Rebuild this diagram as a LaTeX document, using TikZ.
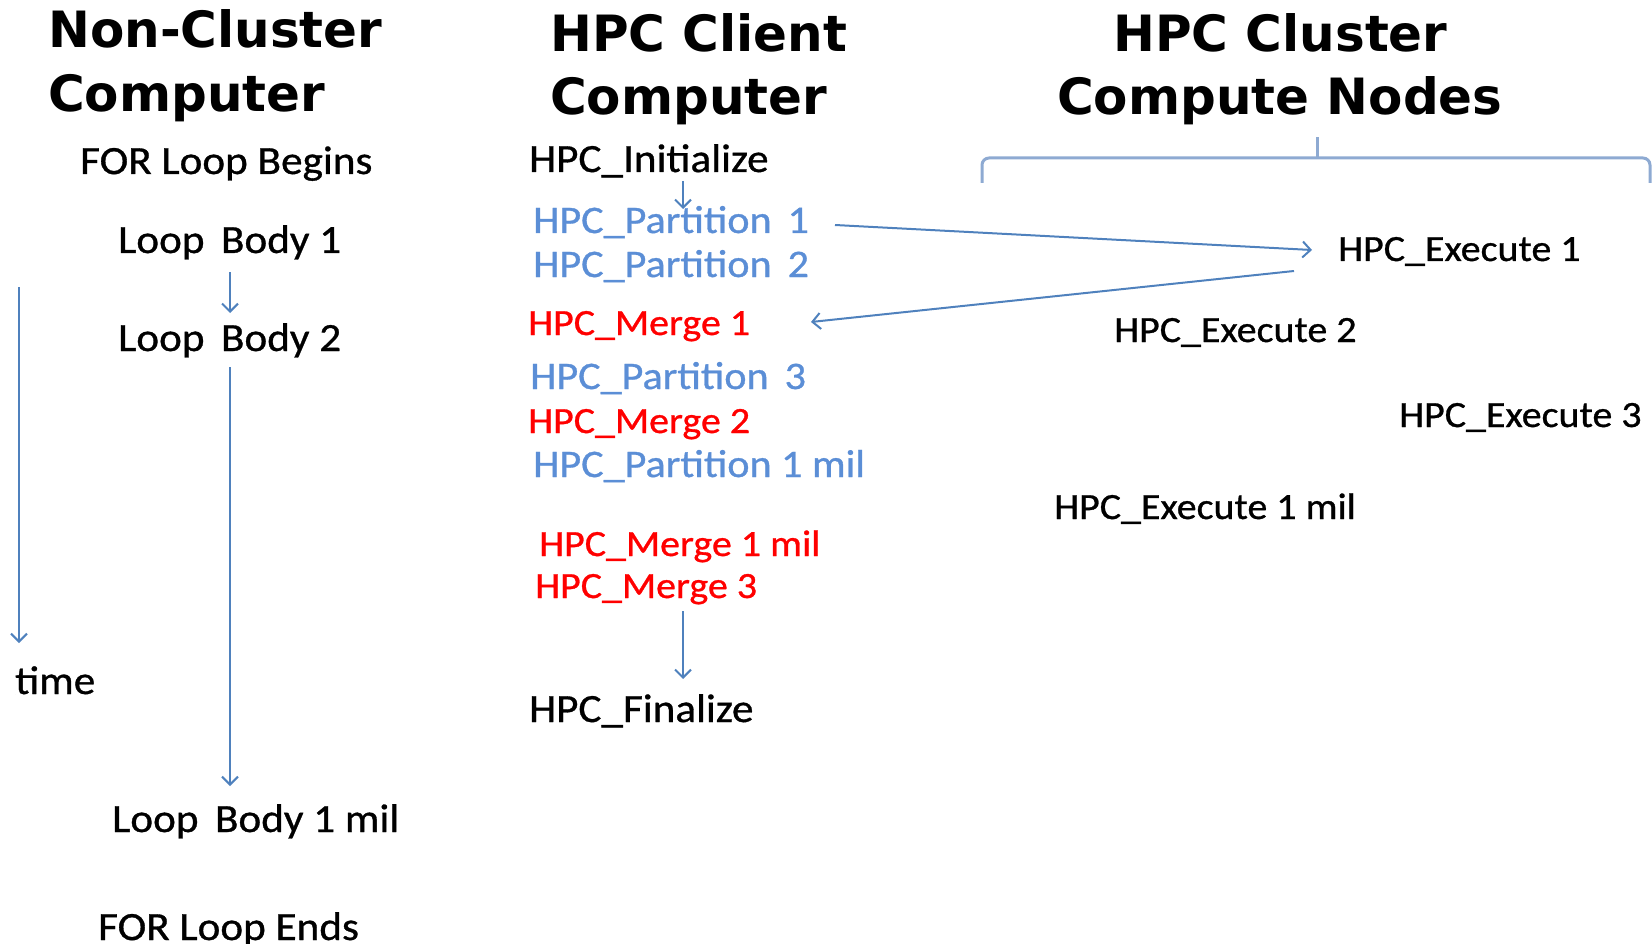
\documentclass[tikz,border=0pt]{standalone}
\usepackage{fontspec}
\setmainfont{Carlito}[FakeStretch=1.08,FakeBold=0.8]
\newfontfamily\headfont{DejaVu Sans}
\usetikzlibrary{arrows.meta}
\definecolor{flowblue}{HTML}{4F81BD}
\definecolor{partblue}{HTML}{5B8ED6}
\definecolor{mergered}{HTML}{FF0000}
\definecolor{bracecol}{HTML}{8EAAD2}

\begin{document}
\begin{tikzpicture}[x=1pt,y=-1pt,
  head/.style={anchor=base west, inner sep=0pt, font=\headfont\bfseries\fontsize{50}{60}\selectfont},
  lbl/.style={anchor=base west, inner sep=0pt, font=\fontsize{40}{48}\selectfont},
  part/.style={lbl, text=partblue, font=\fontsize{39}{47}\selectfont},
  mrg/.style={lbl, text=mergered, font=\fontsize{37}{44}\selectfont},
  exec/.style={lbl, font=\fontsize{37}{44}\selectfont},
  flow/.style={draw=flowblue, line width=2pt, -{Straight Barb[length=8pt,width=16pt,line width=2pt]}},
  brace/.style={draw=bracecol, line width=3pt, rounded corners=7pt}]
\useasboundingbox (0,0) rectangle (1652,944);

% column headings
\node[head] (h1a) at (48,48) {Non-Cluster};
\node[head] (h1b) at (48,112) {Computer};
\node[head] (h2a) at (550,52) {HPC Client};
\node[head] (h2b) at (550,115) {Computer};
\node[head] (h3a) at (1113,52) {HPC Cluster};
\node[head] (h3b) at (1057,115) {Compute Nodes};

% sequential loop
\node[lbl] (fb) at (80,174) {FOR Loop Begins};
\node[lbl] (lb1) at (118,253) {Loop\, Body 1};
\node[lbl] (lb2) at (118,351) {Loop\, Body 2};
\node[lbl] (lbm) at (112,832) {Loop\, Body 1 mil};
\node[lbl] (fe) at (98,940) {FOR Loop Ends};
\node[lbl] (tm) at (15,694) {time};

\coordinate (s1) at (230,272); \coordinate (e1) at (230,313);
\coordinate (s2) at (230,367); \coordinate (e2) at (230,786);
\coordinate (ts) at (19,287);  \coordinate (te) at (19,643);
\draw[flow] (s1) -- (e1);
\draw[flow] (s2) -- (e2);
\draw[flow] (ts) -- (te);

% client computer
\node[lbl] (init) at (529,172) {HPC\_Initialize};
\node[part] (p1) at (533,233) {HPC\_Partition\, 1};
\node[part] (p2) at (533,277) {HPC\_Partition\, 2};
\node[mrg] (m1) at (528,335) {HPC\_Merge 1};
\node[part] (p3) at (530,389) {HPC\_Partition\, 3};
\node[mrg] (m2) at (528,433) {HPC\_Merge 2};
\node[part] (pm) at (533,477) {HPC\_Partition 1 mil};
\node[mrg] (mm) at (539,556) {HPC\_Merge 1 mil};
\node[mrg] (m3) at (535,598) {HPC\_Merge 3};
\node[lbl] (fin) at (529,722) {HPC\_Finalize};

\coordinate (i1) at (683,181); \coordinate (i2) at (683,209);
\coordinate (f1) at (683,611); \coordinate (f2) at (683,679);
\draw[flow] (i1) -- (i2);
\draw[flow] (f1) -- (f2);

% cluster compute nodes
\node[exec] (x1) at (1338,261) {HPC\_Execute 1};
\node[exec] (x2) at (1114,342) {HPC\_Execute 2};
\node[exec] (x3) at (1399,427) {HPC\_Execute 3};
\node[exec] (xm) at (1054,519) {HPC\_Execute 1 mil};

\coordinate (ps) at (835,225);  \coordinate (pe) at (1312,250);
\coordinate (ms) at (1294,271); \coordinate (me) at (811,322);
\draw[flow] (ps) -- (pe);
\draw[flow] (ms) -- (me);

% brace over the compute nodes
\draw[brace] (982,183) -- (982,158) -- (1317,158) -- (1650,158) -- (1650,183);
\draw[draw=bracecol, line width=3pt] (1317,159) -- (1317,137);
\end{tikzpicture}
\end{document}
